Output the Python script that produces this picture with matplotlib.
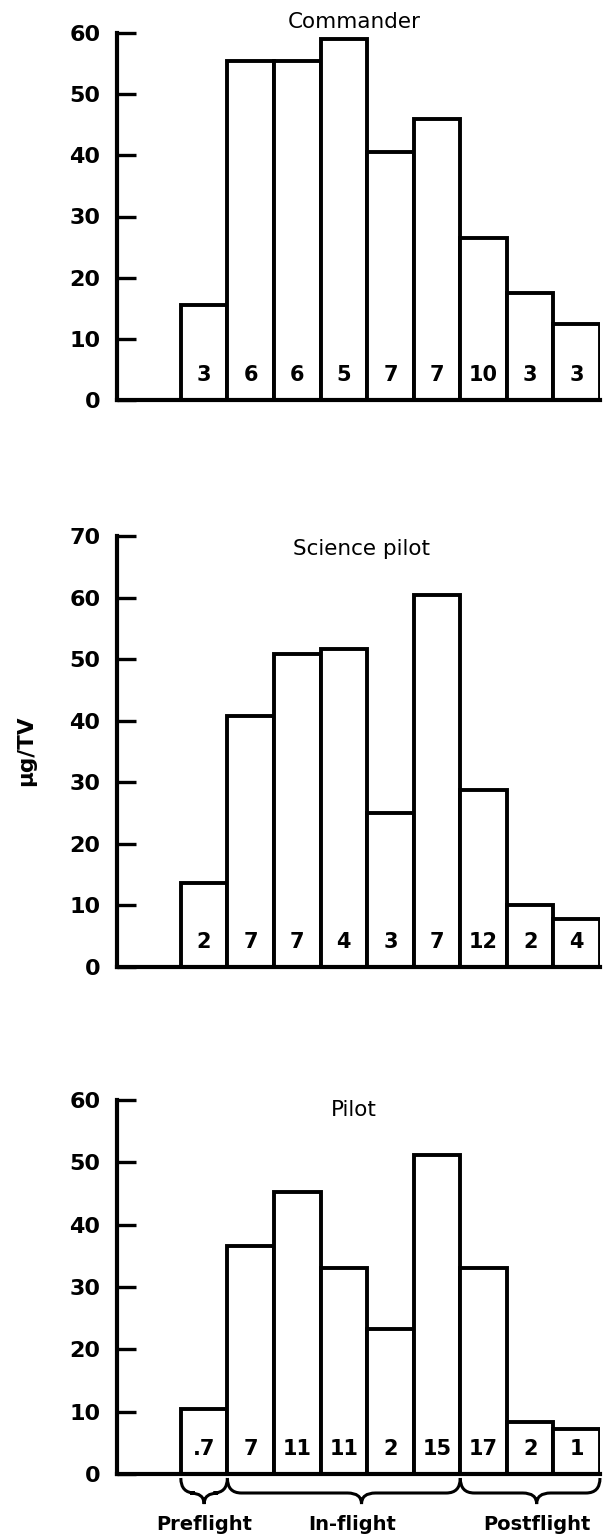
import numpy as np
import matplotlib
matplotlib.use("Agg")
import matplotlib.pyplot as plt
from matplotlib.path import Path
from matplotlib.patches import PathPatch
import matplotlib.transforms as mtransforms

# mean values (ug/TV) per sample period, and the count printed in each bar
commander = [15.5, 55.5, 55.5, 59.0, 40.5, 46.0, 26.5, 17.5, 12.5]
commander_n = ["3", "6", "6", "5", "7", "7", "10", "3", "3"]
science_pilot = [13.7, 40.7, 50.9, 51.6, 25.0, 60.4, 28.7, 10.0, 7.8]
science_pilot_n = ["2", "7", "7", "4", "3", "7", "12", "2", "4"]
pilot = [10.5, 36.5, 45.3, 33.0, 23.3, 51.2, 33.0, 8.3, 7.2]
pilot_n = [".7", "7", "11", "11", "2", "15", "17", "2", "1"]

titles = ["Commander", "Science pilot", "Pilot"]
ymax = [60, 70, 60]
# phases: label, first bar index, last bar index
phases = [("Preflight", 0, 0), ("In-flight", 1, 5), ("Postflight", 6, 8)]

W, H = 604, 1536
fig = plt.figure(figsize=(W / 100, H / 100), dpi=100)

# pixel positions of the panels (axis line x, y of zero, y of top tick)
left, right = 117, 600
panels = [(400, 33), (967, 536), (1474, 1100)]
title_pos = [(3.72, 61.8), (3.88, 67.9), (3.72, 58.4)]
# small shifts of brace tip / label from the middle of each phase
tip_shift = [0.0, 0.38, 0.14]
label_shift = [0.0, 0.17, 0.14]

lw = 2.8
xs = np.arange(9)


def brace(ax, x0, x1, tip_x):
    tr = mtransforms.blended_transform_factory(ax.transData, ax.transAxes)
    h = ax.get_position().height * H
    ytop = -4 / h
    ymid = -19 / h
    ytip = -30 / h
    r = 0.3
    verts = [(x0, ytop), (x0, ymid), (x0 + r, ymid),
             (tip_x - r, ymid),
             (tip_x, ymid), (tip_x, ytip),
             (tip_x, ymid), (tip_x + r, ymid),
             (x1 - r, ymid),
             (x1, ymid), (x1, ytop)]
    codes = [Path.MOVETO, Path.CURVE3, Path.CURVE3,
             Path.LINETO,
             Path.CURVE3, Path.CURVE3,
             Path.CURVE3, Path.CURVE3,
             Path.LINETO,
             Path.CURVE3, Path.CURVE3]
    ax.add_patch(PathPatch(Path(verts, codes), fill=False, lw=2.2,
                           edgecolor="black", transform=tr, clip_on=False))


data = [(commander, commander_n), (science_pilot, science_pilot_n), (pilot, pilot_n)]
for k, ((vals, ns), (y0, y1)) in enumerate(zip(data, panels)):
    ax = fig.add_axes([left / W, 1 - y0 / H, (right - left) / W, (y0 - y1) / H])
    ax.bar(xs, vals, width=1.0, align="edge", color="white",
           edgecolor="black", linewidth=lw)
    ax.set_xlim(-1.37, 9)
    ax.set_ylim(0, ymax[k])
    ax.set_yticks(np.arange(0, ymax[k] + 1, 10))
    ax.set_xticks([])
    for s in ["top", "right"]:
        ax.spines[s].set_visible(False)
    for s in ["left", "bottom"]:
        ax.spines[s].set_linewidth(lw + 0.2)
    ax.tick_params(axis="y", direction="in", length=14, width=2.4,
                   pad=12, labelsize=16)
    for t in ax.get_yticklabels():
        t.set_fontweight("bold")
    px = ymax[k] / (y0 - y1)
    for x, n in zip(xs, ns):
        ax.text(x + 0.5, 25 * px, n, ha="center", va="center",
                fontsize=15, fontweight="bold")
    ax.text(title_pos[k][0], title_pos[k][1], titles[k], ha="center",
            va="center", fontsize=15.5)
    if k == 2:
        for (name, a, b), ts, ls in zip(phases, tip_shift, label_shift):
            mid = (a + b + 1) / 2
            brace(ax, a, b + 1, mid + ts)
            ax.text(mid + ls, -50 * px, name, ha="center", va="center",
                    fontsize=14, fontweight="bold")

fig.text(26 / W, 1 - 751 / H, "\u03bcg/TV", rotation=90, ha="center",
         va="center", fontsize=15.5, fontweight="bold")

fig.savefig("out.png", dpi=100, facecolor="white")
